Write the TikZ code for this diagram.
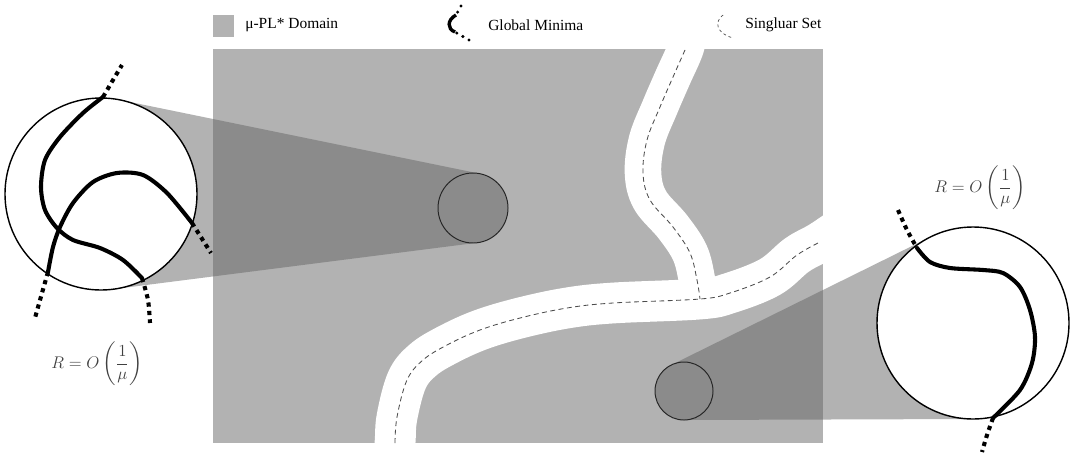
\documentclass[tikz,border=0pt]{standalone}
\usepackage{amsmath}
\usepackage{amssymb}
\usepackage{fontspec}
\setmainfont{Liberation Serif}
\usepackage{xcolor}
\usepackage{tikz}
\usetikzlibrary{arrows,shapes,backgrounds,fit}

\begin{document}
\begin{tikzpicture}[x=0.025cm,y=-0.025cm]
      \tikzstyle{pl_domain}=[fill=black!30]
      \tikzstyle{sing_gap}=[draw=white, line width=29pt, line join=round, line cap=round]
      \tikzstyle{branch_gap}=[sing_gap, line width=26pt]
      \tikzstyle{singular}=[draw=black!70, line width=0.6pt, dash pattern=on 3.5pt off 2.5pt]
      \tikzstyle{zoom_cone}=[fill=black!60, fill opacity=0.5]
      \tikzstyle{lens}=[draw=black, line width=1pt, fill=white]
      \tikzstyle{spot}=[draw=black!85, line width=0.7pt]
      \tikzstyle{minima}=[draw=black, line width=2.9pt, line cap=round]
      \tikzstyle{minima_tail}=[draw=black, line width=2.9pt, dash pattern=on 3pt off 3pt]
      \tikzstyle{legend_text}=[anchor=west, inner sep=0pt, font=\fontsize{11}{13}\selectfont]
      \tikzstyle{radius_text}=[text=black!75, font=\fontsize{13}{15}\selectfont]

      \useasboundingbox (0,0) rectangle (1070,454);

      % domain, cut by the singular set
      \fill [pl_domain] (213,49) rectangle (823,443);
      \begin{scope}
        \clip (213,49) rectangle (823,443);
        \draw [sing_gap] plot [smooth, tension=0.6] coordinates {(392,470) (395,443) (397,417) (407,380) (423,360) (447,345) (480,330) (520,318) (567,308) (613,303) (700,299) (730,293) (770,277) (797,255) (820,242) (845,225)};
        \draw [branch_gap] plot [smooth, tension=0.6] coordinates {(690,30) (685,50) (673,77) (660,107) (647,140) (643,173) (650,200) (673,227) (690,253) (697,280) (700,299)};
        \draw [singular] plot [smooth, tension=0.6] coordinates {(395,443) (397,417) (407,380) (423,360) (447,345) (480,330) (520,318) (567,308) (613,303) (700,299) (730,293) (770,277) (797,255) (820,242)};
        \draw [singular] plot [smooth, tension=0.6] coordinates {(685,50) (673,77) (660,107) (647,140) (643,173) (650,200) (673,227) (690,253) (697,280) (700,299)};
      \end{scope}

      % zoom cones
      \fill [zoom_cone] (120.3,100) -- (480.03,173.71) arc [start angle=-78.41, end angle=82.73, radius=35] -- (113.1,289.2) -- (101,194) -- cycle;
      \fill [zoom_cone] (930.5,236.9) -- (671.16,365.0) arc [start angle=243.72, end angle=89.8, radius=29] -- (973.3,419) -- (973,323) -- cycle;
      \draw [spot] (473,208) circle (35);
      \draw [spot] (684,391) circle (29);

      % left lens
      \begin{scope}
        \draw [lens] (101,194) circle (96);
        \draw [minima] plot [smooth] coordinates {(103,97) (83,113) (60,137) (45,160) (41,187) (45,210) (57,228) (73,240) (100,248) (123,260) (142,278)};
        \draw [minima] plot [smooth] coordinates {(48,272) (53,247) (60,227) (73,203) (93,182) (117,173) (143,175) (167,193) (192,223)};
        \draw [minima_tail] plot [smooth] coordinates {(103,97) (113,80) (122,65)};
        \draw [minima_tail] plot [smooth] coordinates {(142,278) (148,300) (150,323)};
        \draw [minima_tail] (192,223) -- (211,253);
        \draw [minima_tail] plot [smooth] coordinates {(48,272) (42,293) (35,318)};
        \node (radius_left) at (97,364) [radius_text] {$R = O\left(\dfrac{1}{\mu}\right)$};
      \end{scope}

      % right lens
      \begin{scope}
        \draw [lens] (973,323) circle (96);
        \draw [minima] plot [smooth] coordinates {(917,248) (930,262) (950,268) (983,270) (1003,273) (1020,287) (1030,310) (1035,337) (1032,363) (1020,390) (993,418)};
        \draw [minima_tail] plot [smooth] coordinates {(898,210) (907,230) (917,248)};
        \draw [minima_tail] plot [smooth] coordinates {(993,418) (987,435) (982,452)};
        \node (radius_right) at (980,188) [radius_text] {$R = O\left(\dfrac{1}{\mu}\right)$};
      \end{scope}

      % legend
      \fill [pl_domain] (213,15) rectangle (234,37);
      \node (legend_domain) at (245,25) [legend_text] {μ-PL* Domain};
      \draw [line width=2.4pt] (456,15) .. controls (447,20) and (447,29) .. (455,32);
      \draw [line width=2.4pt, line cap=round, dash pattern=on 0pt off 5pt] (461,6) -- (456,15);
      \draw [line width=2.4pt, line cap=round, dash pattern=on 0pt off 5pt] (469,40) -- (455,32);
      \node (legend_minima) at (488,25) [legend_text] {Global Minima};
      \draw [singular, line width=0.5pt, dash pattern=on 2pt off 2pt] (723,15) .. controls (714,22) and (716,33) .. (733,38);
      \node (legend_singular) at (745,25) [legend_text] {Singluar Set};
\end{tikzpicture}
\end{document}
